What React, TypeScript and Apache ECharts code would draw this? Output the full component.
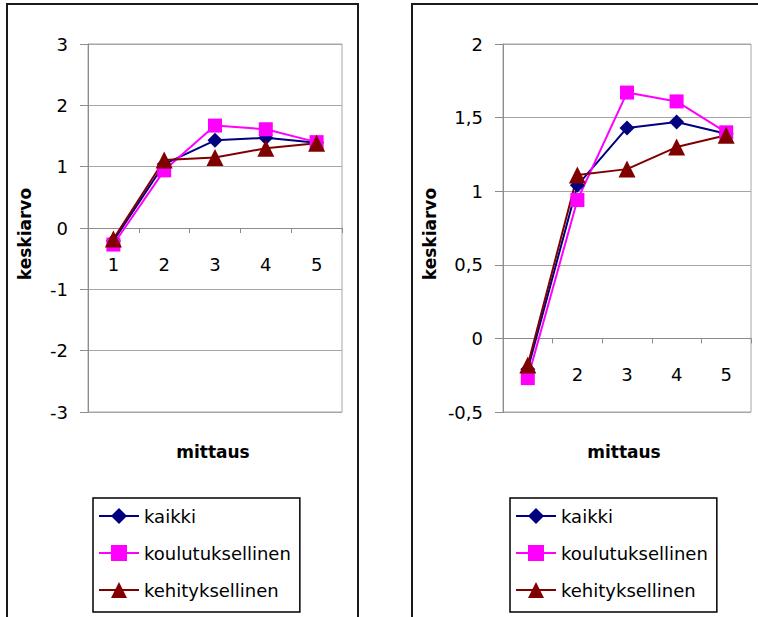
import React, { useEffect, useRef } from 'react';
import * as echarts from 'echarts';

const categories = ['1', '2', '3', '4', '5'];
const seriesNames = ['kaikki', 'koulutuksellinen', 'kehityksellinen'];
const kaikki = [-0.21, 1.04, 1.43, 1.47, 1.39];
const koulutuksellinen = [-0.27, 0.94, 1.67, 1.61, 1.4];
const kehityksellinen = [-0.18, 1.11, 1.15, 1.3, 1.38];
const leftYTicks = [-3, -2, -1, 0, 1, 2, 3];
const rightYTicks = [-0.5, 0, 0.5, 1, 1.5, 2];
const xAxisTitle = 'mittaus';
const yAxisTitle = 'keskiarvo';

const FONT = 'DejaVu Sans';
const colors = ['#000080', '#ff00ff', '#800000'];
const symbols = ['diamond', 'rect', 'triangle'];
const symbolSizes = [15, 14, 17];
const allData = [kaikki, koulutuksellinen, kehityksellinen];

const fmt = (v: number) => String(v).replace('.', ',');

export default function App() {
  const ref = useRef<HTMLDivElement>(null);
  useEffect(() => {
    if (!ref.current) return;
    const chart = echarts.init(ref.current, null, { renderer: 'svg' });
    const grids = [
      { left: 88, top: 44, width: 254, height: 368, ticks: leftYTicks },
      { left: 503, top: 44, width: 248, height: 368, ticks: rightYTicks },
    ];
    const xAxes = grids.map((g, i) => {
      const t = g.ticks;
      const min = t[0];
      const max = t[t.length - 1];
      const zeroOffset = -((0 - min) / (max - min)) * g.height;
      return {
        type: 'category',
        gridIndex: i,
        data: categories,
        position: 'bottom',
        offset: zeroOffset,
        boundaryGap: true,
        axisLine: { show: true, onZero: false, lineStyle: { color: '#8c8c8c', width: 1 } },
        axisTick: { show: true, length: 5, lineStyle: { color: '#8c8c8c' } },
        axisLabel: { margin: 27, color: '#000', fontSize: 18, fontFamily: FONT },
        splitLine: { show: false },
        z: 1,
      };
    });
    const yAxes = grids.map((g, i) => {
      const t = g.ticks;
      return {
        type: 'value',
        gridIndex: i,
        min: t[0],
        max: t[t.length - 1],
        interval: t[1] - t[0],
        axisLine: { show: true, onZero: false, lineStyle: { color: '#8c8c8c', width: 1 } },
        axisTick: { show: true, length: 8, lineStyle: { color: '#8c8c8c' } },
        axisLabel: { margin: 20, color: '#000', fontSize: 18, fontFamily: FONT, formatter: (v: number) => fmt(v) },
        splitLine: { show: true, lineStyle: { color: '#a6a6a6', width: 1 } },
      };
    });
    const series: any[] = [];
    grids.forEach((_, gi) => {
      seriesNames.forEach((name, si) => {
        series.push({
          type: 'line',
          name,
          xAxisIndex: gi,
          yAxisIndex: gi,
          data: allData[si],
          symbol: symbols[si],
          symbolSize: symbolSizes[si],
          showAllSymbol: true,
          z: 3,
          lineStyle: { color: colors[si], width: 2 },
          itemStyle: { color: colors[si] },
        });
      });
    });
    const legendBase = {
      orient: 'vertical',
      align: 'left',
      data: seriesNames,
      top: 498,
      itemWidth: 40,
      itemHeight: 20,
      itemGap: 17,
      padding: [8, 9, 12, 5],
      borderColor: '#000',
      borderWidth: 1.5,
      backgroundColor: '#fff',
      textStyle: { fontFamily: FONT, fontSize: 18, color: '#000', lineHeight: 20 },
      selectedMode: false,
    };
    const nameText = (x: number, y: number, text: string, rot: number) => ({
      type: 'text',
      x,
      y,
      rotation: rot,
      style: {
        text,
        fontFamily: FONT,
        fontSize: 17,
        fontWeight: 'bold',
        fill: '#000',
        align: 'center',
        verticalAlign: 'middle',
      },
    });
    chart.setOption({
      animation: false,
      backgroundColor: '#fff',
      grid: grids.map((g) => ({
        left: g.left,
        top: g.top,
        width: g.width,
        height: g.height,
        show: true,
        borderColor: '#a6a6a6',
        borderWidth: 1,
        containLabel: false,
      })),
      xAxis: xAxes,
      yAxis: yAxes,
      legend: [
        { ...legendBase, left: 93 },
        { ...legendBase, left: 510 },
      ],
      series,
      graphic: [
        {
          type: 'rect',
          shape: { x: 7, y: 4, width: 351, height: 700 },
          style: { fill: 'none', stroke: '#1a1a1a', lineWidth: 2 },
          silent: true,
        },
        {
          type: 'rect',
          shape: { x: 412, y: 4, width: 400, height: 700 },
          style: { fill: 'none', stroke: '#1a1a1a', lineWidth: 2 },
          silent: true,
        },
        nameText(213, 452, xAxisTitle, 0),
        nameText(624, 452, xAxisTitle, 0),
        nameText(25, 234, yAxisTitle, Math.PI / 2),
        nameText(430, 234, yAxisTitle, Math.PI / 2),
      ],
    });
    return () => chart.dispose();
  }, []);
  return (
    <div
      ref={ref}
      style={{ position: 'fixed', left: 0, top: 0, width: 758, height: 617 }}
    />
  );
}
